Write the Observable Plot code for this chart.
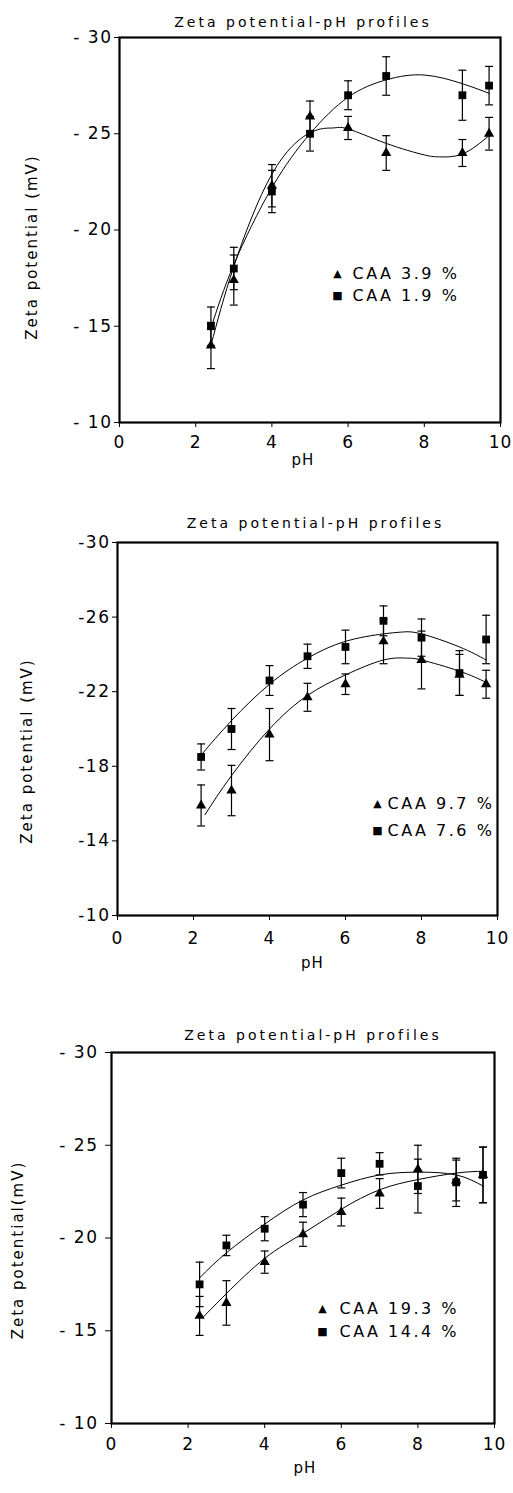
<!DOCTYPE html>
<html><head><meta charset="utf-8">
<script src="https://cdn.jsdelivr.net/npm/d3@7"></script>
<script src="https://cdn.jsdelivr.net/npm/@observablehq/plot@0.6"></script>
<style>body{margin:0;background:#fff;} svg{display:block;}</style>
</head><body><div id="chart"></div>
<script>
const titleText = "Zeta potential-pH profiles";
const xLabel = "pH";
const xTicks = [0, 2, 4, 6, 8, 10];

// Panel 1
const p1Labels = ["CAA 3.9 %", "CAA 1.9 %"];
const p1YLabel = "Zeta potential (mV)";
const p1YTicks = [-30, -25, -20, -15, -10];
const p1pH = [2.4, 3, 4, 5, 6, 7, 9, 9.7];
const p1Tri = [-14.0, -17.4, -22.3, -25.9, -25.3, -24.0, -24.0, -25.0];
const p1TriErr = [1.2, 1.3, 1.1, 0.8, 0.6, 0.9, 0.7, 0.85];
const p1Sq = [-15.0, -18.0, -22.0, -25.0, -27.0, -28.0, -27.0, -27.5];
const p1SqErr = [1.0, 1.1, 1.1, 0.9, 0.75, 1.0, 1.3, 1.0];
const p1FitTriX = [2.4, 3, 4, 5, 5.6, 6, 7, 8, 8.4, 9, 9.7];
const p1FitTriY = [-14.0, -18.1, -22.9, -25.05, -25.3, -25.25, -24.5, -23.9, -23.8, -23.95, -24.9];
const p1FitSqX = [2.4, 3, 4, 5, 6, 7, 8, 9, 9.7];
const p1FitSqY = [-14.9, -18.2, -22.2, -25.0, -26.9, -27.8, -28.05, -27.6, -27.1];

// Panel 2
const p2Labels = ["CAA 9.7 %", "CAA 7.6 %"];
const p2YLabel = "Zeta potential (mV)";
const p2YTicks = [-30, -26, -22, -18, -14, -10];
const p2pH = [2.2, 3, 4, 5, 6, 7, 8, 9, 9.7];
const p2Tri = [-15.9, -16.7, -19.7, -21.7, -22.4, -24.7, -23.7, -22.9, -22.4];
const p2TriErr = [1.1, 1.35, 1.4, 0.75, 0.55, 1.2, 1.55, 1.1, 0.75];
const p2Sq = [-18.5, -20.0, -22.6, -23.9, -24.4, -25.8, -24.9, -23.0, -24.8];
const p2SqErr = [0.7, 1.1, 0.8, 0.65, 0.9, 0.8, 1.0, 1.2, 1.3];
const p2FitTriX = [2.3, 3, 4, 5, 6, 7, 7.6, 8, 9, 9.7];
const p2FitTriY = [-15.4, -17.5, -20.0, -21.8, -22.9, -23.7, -23.8, -23.7, -23.1, -22.5];
const p2FitSqX = [2.2, 3, 4, 5, 6, 7, 7.5, 8, 9, 9.7];
const p2FitSqY = [-18.6, -20.45, -22.4, -23.8, -24.7, -25.1, -25.2, -25.1, -24.4, -23.7];

// Panel 3
const p3Labels = ["CAA 19.3 %", "CAA 14.4 %"];
const p3YLabel = "Zeta potential(mV)";
const p3YTicks = [-30, -25, -20, -15, -10];
const p3pH = [2.3, 3, 4, 5, 6, 7, 8, 9, 9.7];
const p3Tri = [-15.8, -16.5, -18.7, -20.2, -21.4, -22.4, -23.7, -23.1, -23.4];
const p3TriErr = [1.05, 1.2, 0.6, 0.65, 0.75, 0.8, 1.3, 1.1, 1.5];
const p3Sq = [-17.5, -19.6, -20.5, -21.8, -23.5, -24.0, -22.8, -23.0, -23.4];
const p3SqErr = [1.2, 0.55, 0.65, 0.65, 0.8, 0.6, 1.45, 1.3, 1.5];
const p3FitTriX = [2.4, 3, 4, 5, 6, 7, 8, 9, 9.7];
const p3FitTriY = [-15.75, -17.0, -18.9, -20.25, -21.55, -22.6, -23.15, -23.5, -23.6];
const p3FitSqX = [2.3, 3, 4, 5, 6, 7, 8, 9, 9.7];
const p3FitSqY = [-17.85, -19.2, -20.75, -22.05, -22.85, -23.4, -23.55, -23.4, -22.8];

const cap = {draw(ctx, size) { const w = Math.sqrt(size) / 2; ctx.moveTo(-w, 0); ctx.lineTo(w, 0); }};
const font = "'DejaVu Sans', sans-serif";

function panel(c) {
  const pts = (xs, ys, es) => xs.map((x, i) => ({x, y: ys[i], e: es[i]}));
  const tri = pts(c.pH, c.tri, c.triErr);
  const sq = pts(c.pH, c.sq, c.sqErr);
  const all = tri.concat(sq);
  const fitTri = c.fitTriX.map((x, i) => ({x, y: c.fitTriY[i]}));
  const fitSq = c.fitSqX.map((x, i) => ({x, y: c.fitSqY[i]}));
  const L = c.layout;
  const svg = Plot.plot({
    width: 513, height: L.height,
    marginTop: L.mt, marginBottom: L.mb, marginLeft: L.ml, marginRight: L.mr,
    x: {domain: [0, 10]},
    y: {domain: [-10, -30]},
    style: {fontFamily: font, color: "black", background: "white", overflow: "visible"},
    marks: [
      Plot.axisX({ticks: xTicks, tickSize: 5, tickPadding: L.xPad, fontSize: 17, label: null, tickFormat: d => String(d)}),
      Plot.axisY({ticks: c.yTicks, tickSize: L.yTick, tickPadding: L.yPad, fontSize: 17, label: null, tickFormat: d => L.minus + Math.abs(d)}),
      Plot.line(fitSq, {x: "x", y: "y", curve: "natural", stroke: "black", strokeWidth: 1}),
      Plot.line(fitTri, {x: "x", y: "y", curve: "natural", stroke: "black", strokeWidth: 1}),
      Plot.ruleX(all, {x: "x", y1: d => d.y - d.e, y2: d => d.y + d.e, stroke: "black", strokeWidth: 1.2}),
      Plot.dot(all, {x: "x", y: d => d.y - d.e, symbol: cap, r: 4.5, stroke: "black", fill: "none", strokeWidth: 1.2}),
      Plot.dot(all, {x: "x", y: d => d.y + d.e, symbol: cap, r: 4.5, stroke: "black", fill: "none", strokeWidth: 1.2}),
      Plot.dot(tri, {x: "x", y: "y", symbol: "triangle", r: 3.8, fill: "black", stroke: "none"}),
      Plot.dot(sq, {x: "x", y: "y", symbol: "square", r: 4.4, fill: "black", stroke: "none"}),
      Plot.frame({stroke: "black", strokeWidth: 2.2}),
      Plot.text([titleText], {frameAnchor: "top", dx: L.titleDx, dy: L.titleDy, fontSize: 14, lineAnchor: "middle"}),
      Plot.text([xLabel], {frameAnchor: "bottom", dx: L.pHDx, dy: L.pHDy, fontSize: 15, lineAnchor: "middle"}),
      Plot.text([c.yLabel], {frameAnchor: "left", rotate: -90, dx: L.ylDx, dy: L.ylDy, fontSize: 15, textAnchor: "middle", lineAnchor: "middle"}),
      Plot.text(["▲"], {frameAnchor: "top-left", dx: L.lgDx, dy: L.lgDy[0], fontSize: 11, lineAnchor: "middle", textAnchor: "middle"}),
      Plot.text(["■"], {frameAnchor: "top-left", dx: L.lgDx, dy: L.lgDy[1], fontSize: 11, lineAnchor: "middle", textAnchor: "middle"}),
      Plot.text([c.labels[0]], {frameAnchor: "top-left", dx: L.lgTx, dy: L.lgDy[0], fontSize: 16, lineAnchor: "middle", textAnchor: "start"}),
      Plot.text([c.labels[1]], {frameAnchor: "top-left", dx: L.lgTx, dy: L.lgDy[1], fontSize: 16, lineAnchor: "middle", textAnchor: "start"})
    ]
  });
  const s = d3.select(svg);
  const byText = (t) => s.selectAll("text").filter(function() { return this.textContent === t; });
  byText(titleText).style("letter-spacing", "3px");
  byText(xLabel).style("letter-spacing", "1px");
  byText(c.yLabel).style("letter-spacing", "2px");
  byText(c.labels[0]).style("letter-spacing", "2.5px");
  byText(c.labels[1]).style("letter-spacing", "2.5px");
  s.selectAll("g[aria-label='y-axis tick label'] text").style("letter-spacing", "1.5px");
  s.selectAll("g[aria-label='x-axis tick label'] text").style("letter-spacing", "1px");
  return svg;
}

const root = document.getElementById("chart");
root.appendChild(panel({
  pH: p1pH, tri: p1Tri, triErr: p1TriErr, sq: p1Sq, sqErr: p1SqErr,
  fitTriX: p1FitTriX, fitTriY: p1FitTriY, fitSqX: p1FitSqX, fitSqY: p1FitSqY,
  yTicks: p1YTicks, yLabel: p1YLabel, labels: p1Labels,
  layout: {height: 490, mt: 37, mb: 68, ml: 119, mr: 13, xPad: 8, yTick: 5, yPad: 2, minus: "- ",
    titleDx: -7, titleDy: -15, pHDx: -7, pHDy: 38, ylDx: -87, ylDy: 17, lgDx: 218, lgTx: 233, lgDy: [236, 258]}
}));
root.appendChild(panel({
  pH: p2pH, tri: p2Tri, triErr: p2TriErr, sq: p2Sq, sqErr: p2SqErr,
  fitTriX: p2FitTriX, fitTriY: p2FitTriY, fitSqX: p2FitSqX, fitSqY: p2FitSqY,
  yTicks: p2YTicks, yLabel: p2YLabel, labels: p2Labels,
  layout: {height: 500, mt: 52, mb: 75, ml: 117, mr: 16, xPad: 11, yTick: 5, yPad: 2, minus: "-",
    titleDx: 8, titleDy: -19, pHDx: 5, pHDy: 48, ylDx: -90, ylDy: 22, lgDx: 260, lgTx: 270, lgDy: [261, 288]}
}));
root.appendChild(panel({
  pH: p3pH, tri: p3Tri, triErr: p3TriErr, sq: p3Sq, sqErr: p3SqErr,
  fitTriX: p3FitTriX, fitTriY: p3FitTriY, fitSqX: p3FitSqX, fitSqY: p3FitSqY,
  yTicks: p3YTicks, yLabel: p3YLabel, labels: p3Labels,
  layout: {height: 503, mt: 62, mb: 70, ml: 111, mr: 19, xPad: 9, yTick: 6, yPad: 7, minus: "- ",
    titleDx: 10, titleDy: -17, pHDx: 2, pHDy: 45, ylDx: -93, ylDy: 12, lgDx: 211, lgTx: 228, lgDy: [256, 279]}
}));
</script></body></html>
